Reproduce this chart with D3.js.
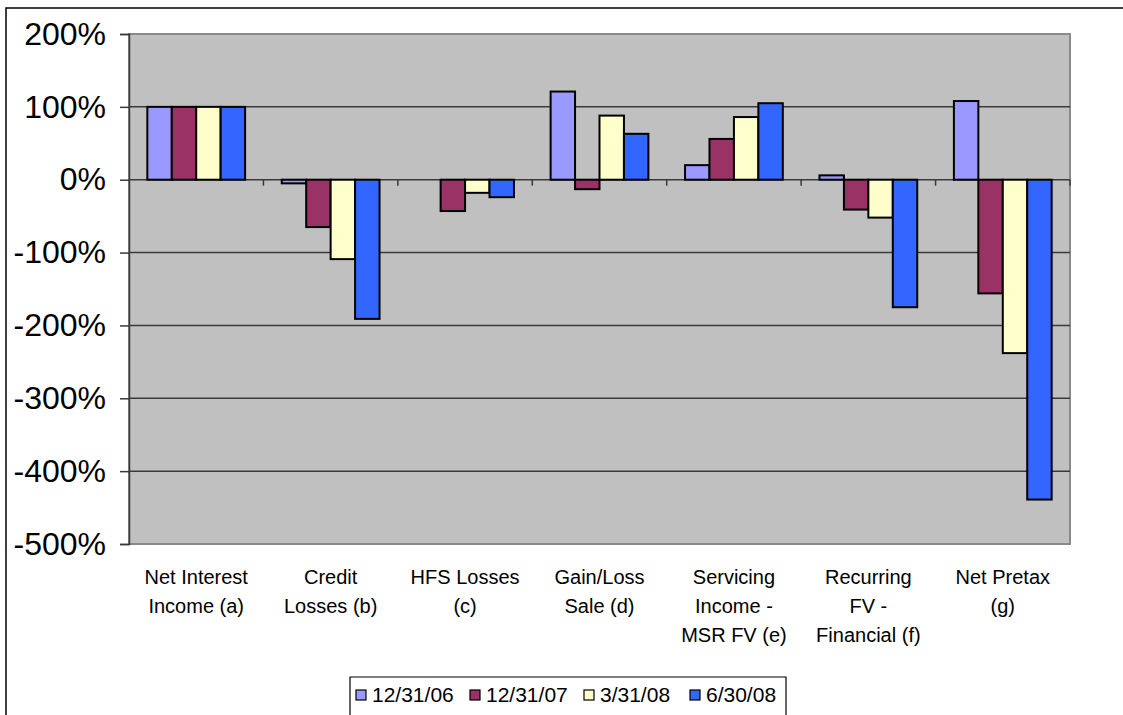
<!DOCTYPE html>
<html>
<head>
<meta charset="utf-8">
<script src="https://cdn.jsdelivr.net/npm/d3@7"></script>
<style>
  html, body { margin: 0; padding: 0; background: #fff; }
  svg { display: block; font-family: "Liberation Sans", Arial, sans-serif; }
</style>
</head>
<body>
<svg id="chart" width="1123" height="715"></svg>
<script>
// Category labels (each entry is a list of wrapped lines)
const categories = [
  ["Net Interest", "Income (a)"],
  ["Credit", "Losses (b)"],
  ["HFS Losses", "(c)"],
  ["Gain/Loss", "Sale (d)"],
  ["Servicing", "Income -", "MSR FV (e)"],
  ["Recurring", "FV -", "Financial (f)"],
  ["Net Pretax", "(g)"]
];
const seriesNames = ["12/31/06", "12/31/07", "3/31/08", "6/30/08"];
const seriesColors = ["#9999FF", "#993366", "#FFFFCC", "#3366FF"];

// Percent values per period, one entry per category
const v123106 = [100, -5, 0, 121, 20, 6, 108];
const v123107 = [100, -65, -43, -13, 56, -41, -156];
const v033108 = [100, -109, -18, 88, 86, -52, -238];
const v063008 = [100, -191, -24, 63, 105, -175, -439];
const seriesValues = [v123106, v123107, v033108, v063008];

const yTicks = [200, 100, 0, -100, -200, -300, -400, -500];

const svg = d3.select("#chart");
const plot = { left: 129, right: 1070, top: 34, bottom: 544 };

// Outer chart frame
svg.append("path")
  .attr("d", `M6,715 V8 H1123`)
  .attr("fill", "none").attr("stroke", "#000").attr("stroke-width", 1.5);

const x0 = d3.scaleBand()
  .domain(d3.range(categories.length))
  .range([plot.left, plot.right])
  .paddingInner(0.2727).paddingOuter(0.13635);
const catBand = d3.scaleBand()
  .domain(d3.range(categories.length))
  .range([plot.left, plot.right]);
const x1 = d3.scaleBand()
  .domain(d3.range(seriesNames.length))
  .range([0, x0.bandwidth()]);
const y = d3.scaleLinear().domain([-500, 200]).range([plot.bottom, plot.top]);

// Plot background
svg.append("rect")
  .attr("x", plot.left).attr("y", plot.top)
  .attr("width", plot.right - plot.left).attr("height", plot.bottom - plot.top)
  .attr("fill", "#C0C0C0").attr("stroke", "#8a8a8a").attr("stroke-width", 2);

// Horizontal gridlines
svg.append("g")
  .selectAll("line")
  .data(yTicks.filter(t => t !== 200 && t !== -500))
  .join("line")
  .attr("x1", plot.left).attr("x2", plot.right)
  .attr("y1", d => y(d)).attr("y2", d => y(d))
  .attr("stroke", "#3a3a3a").attr("stroke-width", 1.5);

// Y axis
const yAxis = d3.axisLeft(y)
  .tickValues(yTicks)
  .tickFormat(d => d + "%")
  .tickSize(9)
  .tickPadding(14);
const gy = svg.append("g")
  .attr("transform", `translate(${plot.left},0)`)
  .call(yAxis);
gy.select(".domain").attr("stroke", "#3a3a3a").attr("stroke-width", 1.5);
gy.selectAll(".tick line").attr("stroke", "#3a3a3a").attr("stroke-width", 1.5);
gy.selectAll(".tick text")
  .attr("font-size", 32).attr("fill", "#000")
  .attr("font-family", "Liberation Sans, Arial, sans-serif");

// Category tick marks along the zero line
svg.append("g")
  .selectAll("line")
  .data(d3.range(1, categories.length + 1))
  .join("line")
  .attr("x1", d => plot.left + catBand.step() * d)
  .attr("x2", d => plot.left + catBand.step() * d)
  .attr("y1", y(0)).attr("y2", y(0) + 6)
  .attr("stroke", "#3a3a3a").attr("stroke-width", 1.5);

// Bars
const groups = svg.append("g")
  .selectAll("g")
  .data(categories.map((c, i) => i))
  .join("g")
  .attr("transform", i => `translate(${x0(i)},0)`);

groups.selectAll("rect")
  .data(i => seriesValues.map((vals, s) => ({ s, v: vals[i] })).filter(d => d.v !== 0))
  .join("rect")
  .attr("x", d => x1(d.s))
  .attr("width", x1.bandwidth())
  .attr("y", d => y(Math.max(0, d.v)))
  .attr("height", d => Math.abs(y(d.v) - y(0)))
  .attr("fill", d => seriesColors[d.s])
  .attr("stroke", "#000").attr("stroke-width", 2);

// Category labels
const labels = svg.append("g")
  .selectAll("text")
  .data(categories)
  .join("text")
  .attr("text-anchor", "middle")
  .attr("font-size", 20)
  .attr("fill", "#000")
  .attr("transform", (d, i) => `translate(${catBand(i) + catBand.bandwidth() / 2},584)`);
labels.selectAll("tspan")
  .data(d => d)
  .join("tspan")
  .attr("x", 0)
  .attr("y", (d, j) => j * 29)
  .text(d => d);

// Legend
const legend = svg.append("g");
legend.append("path")
  .attr("d", "M350,715 V677 H786 V715")
  .attr("fill", "#fff").attr("stroke", "#000").attr("stroke-width", 1.2);
const legendX = [356, 470, 584, 690];
const items = legend.selectAll("g.item")
  .data(seriesNames)
  .join("g")
  .attr("class", "item")
  .attr("transform", (d, i) => `translate(${legendX[i]},690)`);
items.append("rect")
  .attr("width", 10).attr("height", 10)
  .attr("fill", (d, i) => seriesColors[i])
  .attr("stroke", "#000").attr("stroke-width", 1.2);
items.append("text")
  .attr("x", 16).attr("y", 12)
  .attr("font-size", 21).attr("fill", "#000")
  .text(d => d);
</script>
</body>
</html>
